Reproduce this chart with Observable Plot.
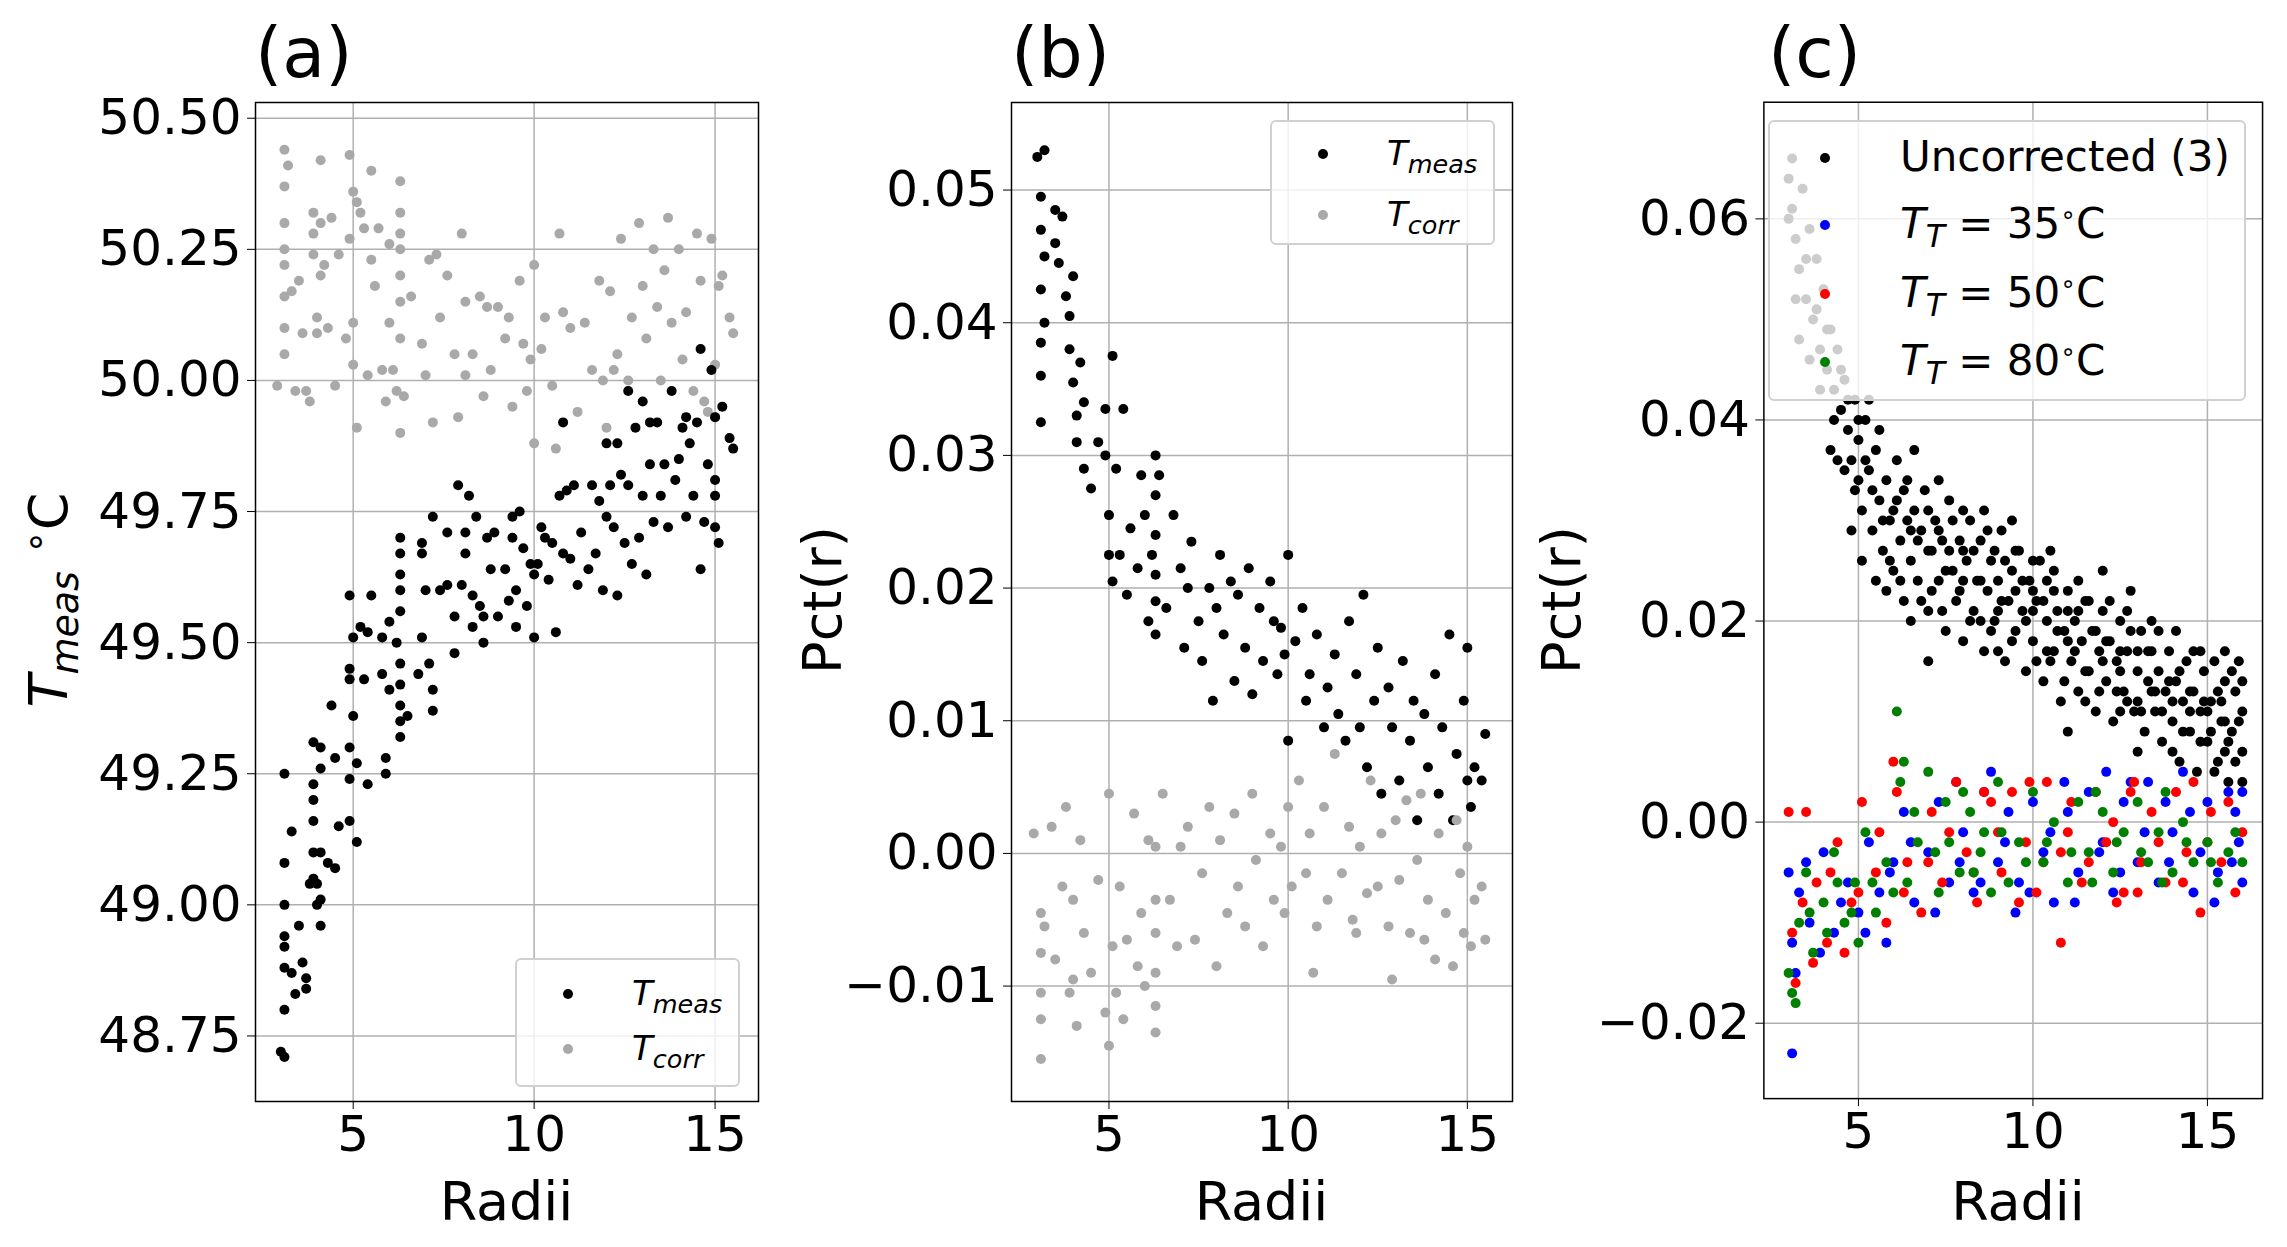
<!DOCTYPE html>
<html><head><meta charset="utf-8">
<script src="https://cdn.jsdelivr.net/npm/d3@7"></script>
<script src="https://cdn.jsdelivr.net/npm/@observablehq/plot@0.6"></script>
<style>
body{margin:0;background:#fff;font-family:"DejaVu Sans",sans-serif;}
#wrap{position:relative;width:2287px;height:1247px;overflow:hidden;}
#wrap svg{position:absolute;top:0;}
.lab{position:absolute;font-size:54px;white-space:nowrap;color:#000;}
.ylab{position:absolute;font-size:54px;white-space:nowrap;transform:translate(-50%,-50%) rotate(-90deg);}
.leg{position:absolute;background:rgba(255,255,255,0.8);border:2px solid #d0d0d0;border-radius:6px;box-sizing:border-box;}
.row{position:absolute;left:0;font-size:36px;white-space:nowrap;}
.dot{position:absolute;width:10px;height:10px;border-radius:50%;}
</style></head><body><div id="wrap"></div>
<script>
// Panel (a): Radii vs T (°C)
const aMeas=[[3,48.72],[3.1,48.71],[3.1,48.8],[3.1,48.88],[3.1,48.92],[3.1,48.94],[3.1,49.0],[3.1,49.08],[3.1,49.25],[3.3,49.14],[3.3,48.87],[3.4,48.83],[3.5,48.96],[3.6,48.89],[3.7,48.86],[3.7,48.84],[3.8,49.04],[3.9,49.05],[3.9,49.1],[3.9,49.16],[3.9,49.2],[3.9,49.23],[3.9,49.31],[4.0,49.0],[4.0,49.04],[4.1,48.96],[4.1,49.01],[4.1,49.1],[4.1,49.26],[4.1,49.3],[4.3,49.08],[4.4,49.38],[4.5,49.28],[4.5,49.07],[4.6,49.15],[4.9,49.16],[4.9,49.24],[4.9,49.3],[4.9,49.43],[4.9,49.45],[4.9,49.59],[5.0,49.36],[5.0,49.51],[5.1,49.12],[5.1,49.27],[5.2,49.53],[5.3,49.43],[5.4,49.23],[5.4,49.52],[5.5,49.59],[5.8,49.51],[5.8,49.44],[5.9,49.28],[5.9,49.25],[6.0,49.41],[6.0,49.54],[6.2,49.5],[6.3,49.32],[6.3,49.35],[6.3,49.38],[6.3,49.42],[6.3,49.46],[6.3,49.56],[6.3,49.6],[6.3,49.63],[6.3,49.67],[6.3,49.7],[6.5,49.36],[6.8,49.44],[6.9,49.51],[6.9,49.67],[6.9,49.69],[7.0,49.6],[7.1,49.46],[7.2,49.41],[7.2,49.37],[7.2,49.74],[7.4,49.6],[7.6,49.71],[7.6,49.61],[7.8,49.55],[7.8,49.48],[7.9,49.8],[8.0,49.61],[8.1,49.71],[8.1,49.67],[8.2,49.78],[8.3,49.59],[8.3,49.53],[8.4,49.74],[8.5,49.57],[8.6,49.55],[8.6,49.5],[8.7,49.7],[8.8,49.64],[8.9,49.71],[9.0,49.55],[9.2,49.64],[9.3,49.58],[9.4,49.7],[9.4,49.74],[9.5,49.53],[9.5,49.6],[9.6,49.75],[9.7,49.68],[9.8,49.57],[9.9,49.65],[10.0,49.63],[10.0,49.51],[10.1,49.65],[10.2,49.72],[10.3,49.7],[10.4,49.62],[10.5,49.69],[10.6,49.52],[10.7,49.78],[10.8,49.92],[10.8,49.67],[10.9,49.79],[11.0,49.66],[11.1,49.8],[11.2,49.61],[11.3,49.71],[11.5,49.64],[11.6,49.8],[11.7,49.67],[11.8,49.77],[11.9,49.6],[12.0,49.88],[12.0,49.74],[12.1,49.8],[12.2,49.72],[12.3,49.59],[12.3,49.88],[12.4,49.82],[12.5,49.69],[12.6,49.8],[12.7,49.65],[12.8,49.91],[12.9,49.7],[13.0,49.78],[13.0,49.96],[13.1,49.63],[13.2,49.84],[13.3,49.73],[13.4,49.92],[13.5,49.78],[13.6,49.84],[13.7,49.72],[13.8,49.98],[13.9,49.81],[14.0,49.85],[14.1,49.91],[14.2,49.74],[14.3,49.88],[14.4,49.78],[14.5,49.92],[14.6,50.06],[14.6,49.64],[14.7,49.73],[14.8,49.84],[14.9,50.02],[15.0,49.72],[15.0,49.81],[15.0,49.78],[15.0,49.93],[15.1,49.69],[15.2,49.95],[15.4,49.89],[15.5,49.87],[13.2,49.92],[12.6,49.98],[14.2,49.93]];
const aCorr=[[2.9,49.99],[3.1,50.44],[3.1,50.37],[3.1,50.3],[3.1,50.25],[3.1,50.22],[3.1,50.16],[3.1,50.1],[3.1,50.05],[3.2,50.41],[3.3,50.17],[3.4,49.98],[3.5,50.19],[3.6,50.09],[3.7,49.98],[3.8,49.96],[3.9,50.32],[3.9,50.28],[3.9,50.24],[4.0,50.12],[4.0,50.09],[4.1,50.42],[4.1,50.2],[4.1,50.3],[4.2,50.22],[4.3,50.1],[4.4,50.31],[4.5,49.99],[4.6,50.24],[4.8,50.08],[4.9,50.43],[4.9,50.27],[5.0,50.36],[5.0,50.11],[5.0,50.03],[5.1,50.34],[5.1,49.91],[5.2,50.32],[5.3,50.29],[5.4,50.01],[5.5,50.4],[5.5,50.23],[5.6,50.18],[5.7,50.29],[5.8,50.02],[5.9,49.96],[6.0,50.26],[6.0,50.11],[6.1,50.02],[6.2,49.98],[6.3,50.38],[6.3,50.32],[6.3,50.28],[6.3,50.25],[6.3,50.2],[6.3,50.15],[6.3,50.08],[6.3,49.9],[6.4,49.97],[6.6,50.16],[6.9,50.07],[7.0,50.01],[7.1,50.23],[7.2,49.92],[7.3,50.24],[7.4,50.12],[7.6,50.2],[7.8,50.05],[7.9,49.93],[8.0,50.28],[8.1,50.01],[8.1,50.15],[8.3,50.05],[8.5,50.16],[8.6,49.97],[8.7,50.14],[8.8,50.02],[9.0,50.14],[9.2,50.08],[9.3,50.12],[9.4,49.95],[9.6,50.19],[9.7,50.07],[9.8,49.98],[9.9,50.04],[10.0,50.22],[10.0,49.88],[10.2,50.06],[10.3,50.12],[10.5,49.99],[10.6,49.87],[10.7,50.28],[10.8,50.13],[11.0,50.1],[11.2,49.94],[11.4,50.11],[11.6,50.02],[11.8,50.19],[11.9,50.0],[12.0,49.91],[12.1,50.17],[12.3,50.05],[12.4,50.27],[12.6,50.0],[12.7,50.12],[12.9,50.3],[13.0,50.18],[13.1,50.08],[13.3,50.25],[13.4,50.14],[13.5,50.0],[13.6,50.21],[13.7,50.31],[13.8,50.11],[14.0,50.25],[14.1,50.04],[14.2,50.13],[14.4,49.98],[14.5,50.28],[14.6,50.19],[14.7,49.96],[14.9,50.27],[15.0,50.03],[15.0,49.93],[15.1,50.18],[15.2,50.2],[15.4,50.12],[15.5,50.09],[14.8,49.94],[12.2,50.02]];
// Panel (b): Radii vs Pct(r)
const bMeas=[[3.0,0.0525],[3.2,0.053],[3.1,0.0495],[3.1,0.047],[3.2,0.045],[3.1,0.0425],[3.2,0.040],[3.1,0.0385],[3.1,0.036],[3.1,0.0325],[3.5,0.0485],[3.5,0.046],[3.6,0.0445],[3.7,0.048],[3.8,0.042],[3.9,0.0405],[3.9,0.038],[4.0,0.0435],[4.0,0.0355],[4.1,0.033],[4.1,0.031],[4.2,0.037],[4.3,0.034],[4.3,0.029],[4.5,0.0275],[4.7,0.031],[4.9,0.0335],[4.9,0.030],[5.0,0.0255],[5.0,0.0225],[5.1,0.0205],[5.1,0.0375],[5.2,0.029],[5.3,0.0225],[5.4,0.0335],[5.5,0.0195],[5.6,0.0245],[5.8,0.0215],[5.9,0.0285],[6.0,0.0255],[6.1,0.0175],[6.2,0.0225],[6.3,0.030],[6.3,0.027],[6.3,0.024],[6.3,0.021],[6.3,0.019],[6.3,0.0165],[6.4,0.0285],[6.6,0.0185],[6.8,0.0255],[7.0,0.0215],[7.1,0.0155],[7.2,0.020],[7.3,0.0235],[7.5,0.0175],[7.6,0.0145],[7.8,0.020],[7.9,0.0115],[8.0,0.0185],[8.1,0.0225],[8.2,0.0165],[8.4,0.0205],[8.5,0.013],[8.6,0.0195],[8.8,0.0155],[8.9,0.0215],[9.0,0.012],[9.2,0.0185],[9.3,0.0145],[9.5,0.0205],[9.6,0.0175],[9.7,0.0135],[9.8,0.017],[9.9,0.015],[10.0,0.0225],[10.0,0.0085],[10.2,0.016],[10.4,0.0185],[10.5,0.0115],[10.6,0.0135],[10.8,0.0165],[11.0,0.0095],[11.1,0.0125],[11.3,0.015],[11.4,0.0105],[11.6,0.0085],[11.7,0.0175],[11.9,0.0135],[12.0,0.0095],[12.1,0.0195],[12.2,0.0065],[12.4,0.0115],[12.5,0.0155],[12.6,0.0045],[12.8,0.0125],[12.9,0.0095],[13.1,0.0055],[13.2,0.0145],[13.4,0.0085],[13.5,0.0115],[13.6,0.0025],[13.8,0.0105],[13.9,0.0065],[14.1,0.0135],[14.2,0.0045],[14.3,0.0095],[14.5,0.0165],[14.6,0.0025],[14.7,0.0075],[14.9,0.0115],[15.0,0.0155],[15.0,0.0055],[15.1,0.0035],[15.2,0.0065],[15.4,0.0055],[15.5,0.009]];
const bCorr=[[2.9,0.0015],[3.1,-0.0045],[3.1,-0.0075],[3.1,-0.0105],[3.1,-0.0125],[3.1,-0.0155],[3.2,-0.0055],[3.4,0.002],[3.5,-0.008],[3.7,-0.0025],[3.8,0.0035],[3.9,-0.0105],[4.0,-0.0035],[4.0,-0.0095],[4.1,-0.013],[4.2,0.001],[4.3,-0.006],[4.5,-0.009],[4.7,-0.002],[4.9,-0.012],[5.0,-0.0145],[5.0,0.0045],[5.1,-0.007],[5.2,-0.0105],[5.3,-0.0025],[5.4,-0.0125],[5.5,-0.0065],[5.7,0.003],[5.8,-0.0085],[5.9,-0.0045],[6.0,-0.01],[6.1,0.001],[6.3,-0.0115],[6.3,-0.009],[6.3,-0.006],[6.3,-0.0035],[6.3,0.0005],[6.3,-0.0135],[6.5,0.0045],[6.7,-0.0035],[6.9,-0.007],[7.0,0.0005],[7.2,0.002],[7.4,-0.0065],[7.6,-0.0015],[7.8,0.0035],[8.0,-0.0085],[8.1,0.001],[8.3,-0.0045],[8.5,0.003],[8.6,-0.0025],[8.8,-0.0055],[9.0,0.0045],[9.1,-0.0005],[9.3,-0.007],[9.5,0.0015],[9.6,-0.0035],[9.8,0.0005],[9.9,-0.0045],[10.0,0.0035],[10.1,-0.0025],[10.3,0.0055],[10.5,-0.0015],[10.6,0.0015],[10.8,-0.0055],[11.0,0.0035],[11.1,-0.0035],[11.3,0.0075],[11.5,-0.0015],[11.7,0.002],[11.8,-0.005],[12.0,0.0005],[12.2,-0.003],[12.3,0.0055],[12.5,-0.0025],[12.6,0.0015],[12.8,-0.0055],[13.0,0.0025],[13.1,-0.002],[13.3,0.004],[13.4,-0.006],[13.6,-0.0005],[13.7,0.0045],[13.9,-0.0035],[14.1,-0.008],[14.2,0.0015],[14.4,-0.0045],[14.6,-0.0085],[14.7,0.0025],[14.8,-0.0015],[14.9,-0.006],[15.0,0.0005],[15.1,-0.007],[15.2,-0.0035],[15.4,-0.0025],[15.5,-0.0065],[12.9,-0.0095],[11.9,-0.006],[13.8,-0.0065],[10.7,-0.009]];
// Panel (c): Radii vs Pct(r)
const cUncorr=[[3.0,0.064],[3.1,0.066],[3.1,0.061],[3.2,0.058],[3.3,0.055],[3.4,0.063],[3.5,0.052],[3.6,0.059],[3.7,0.050],[3.8,0.056],[3.9,0.047],[4.0,0.053],[4.1,0.045],[4.2,0.049],[4.3,0.043],[4.4,0.047],[4.5,0.041],[4.6,0.044],[4.7,0.039],[4.8,0.036],[4.9,0.042],[5.0,0.034],[5.0,0.038],[5.1,0.031],[5.1,0.026],[5.2,0.040],[5.3,0.035],[5.4,0.029],[5.5,0.037],[5.6,0.032],[5.7,0.027],[5.8,0.034],[5.9,0.030],[6.0,0.025],[6.1,0.036],[6.2,0.028],[6.3,0.033],[6.3,0.022],[6.4,0.030],[6.5,0.026],[6.6,0.031],[6.7,0.024],[6.8,0.029],[6.9,0.033],[7.0,0.021],[7.1,0.027],[7.2,0.030],[7.3,0.024],[7.4,0.028],[7.5,0.019],[7.6,0.032],[7.7,0.025],[7.8,0.022],[7.9,0.028],[8.0,0.018],[8.1,0.026],[8.2,0.030],[8.3,0.021],[8.4,0.024],[8.5,0.028],[8.6,0.017],[8.7,0.023],[8.8,0.026],[8.9,0.020],[9.0,0.024],[9.1,0.029],[9.2,0.016],[9.3,0.022],[9.4,0.025],[9.5,0.019],[9.6,0.027],[9.7,0.021],[9.8,0.015],[9.9,0.024],[10.0,0.018],[10.1,0.022],[10.2,0.026],[10.3,0.014],[10.4,0.020],[10.5,0.027],[10.6,0.017],[10.7,0.021],[10.8,0.012],[10.9,0.019],[11.0,0.023],[11.1,0.016],[11.2,0.020],[11.3,0.013],[11.4,0.018],[11.5,0.022],[11.6,0.015],[11.7,0.019],[11.8,0.011],[11.9,0.017],[12.0,0.021],[12.1,0.014],[12.2,0.018],[12.3,0.010],[12.4,0.016],[12.5,0.020],[12.6,0.013],[12.7,0.017],[12.8,0.023],[12.9,0.011],[13.0,0.015],[13.1,0.019],[13.2,0.009],[13.3,0.014],[13.4,0.017],[13.5,0.011],[13.6,0.015],[13.7,0.008],[13.8,0.013],[13.9,0.017],[14.0,0.010],[14.1,0.014],[14.2,0.006],[14.3,0.012],[14.4,0.016],[14.5,0.009],[14.6,0.013],[14.7,0.005],[14.8,0.011],[14.9,0.015],[15.0,0.008],[15.1,0.012],[15.2,0.016],[15.3,0.006],[15.4,0.010],[15.5,0.014],[15.6,0.004],[15.7,0.009],[15.8,0.013],[15.9,0.016],[16.0,0.007],[16.0,0.011],[4.2,0.037],[4.6,0.035],[5.3,0.042],[5.8,0.023],[6.6,0.037],[7.3,0.034],[8.0,0.031],[8.7,0.029],[9.4,0.030],[10.0,0.026],[10.6,0.023],[11.3,0.024],[12.0,0.025],[12.7,0.021],[13.4,0.020],[14.1,0.019],[14.8,0.017],[15.5,0.017],[6.0,0.031],[7.0,0.027],[8.0,0.024],[9.0,0.021],[10.0,0.021],[11.0,0.018],[12.0,0.016],[13.0,0.012],[14.0,0.012],[15.0,0.011],[5.5,0.024],[6.5,0.020],[7.5,0.025],[8.5,0.020],[9.5,0.023],[10.5,0.016],[11.5,0.012],[12.5,0.015],[13.5,0.013],[14.5,0.011],[15.5,0.007],[4.8,0.029],[7.0,0.016],[9.0,0.017],[11.0,0.009],[13.0,0.007],[10.4,0.024],[12.5,0.011],
[3.0,0.060],[3.2,0.052],[3.3,0.048],[3.5,0.056],[3.6,0.046],[3.8,0.051],[3.9,0.043],[4.1,0.049],[4.3,0.040],[4.4,0.036],[4.5,0.045],[4.7,0.042],[4.9,0.033],[5.0,0.040],[5.2,0.036],[5.4,0.033],[5.6,0.039],[5.7,0.030],[5.9,0.026],[6.1,0.032],[6.2,0.024],[6.4,0.034],[6.5,0.029],[6.7,0.028],[6.8,0.022],[7.0,0.031],[7.1,0.023],[7.3,0.029],[7.4,0.021],[7.6,0.027],[7.7,0.030],[7.9,0.023],[8.0,0.027],[8.2,0.020],[8.3,0.027],[8.5,0.024],[8.6,0.031],[8.8,0.019],[8.9,0.027],[9.1,0.022],[9.2,0.026],[9.4,0.018],[9.5,0.027],[9.7,0.024],[9.8,0.020],[10.0,0.023],[10.1,0.016],[10.3,0.022],[10.4,0.017],[10.6,0.025],[10.7,0.019],[10.9,0.014],[11.0,0.021],[11.2,0.017],[11.3,0.021],[11.5,0.015],[11.6,0.022],[11.8,0.019],[11.9,0.013],[12.1,0.018],[12.2,0.022],[12.4,0.013],[12.5,0.017],[12.7,0.012],[12.8,0.019],[13.0,0.017],[13.1,0.011],[13.3,0.017],[13.4,0.013],[13.6,0.019],[13.7,0.011],[13.9,0.014],[14.0,0.007],[14.2,0.015],[14.3,0.009],[14.5,0.013],[14.6,0.017],[14.8,0.008],[14.9,0.012],[15.1,0.009],[15.2,0.005],[15.4,0.012],[15.5,0.010],[15.7,0.015],[15.8,0.006],[16.0,0.014],[16.0,0.004],[15.9,0.010],[15.6,0.008],[15.3,0.013]];
const c35=[[3.0,-0.005],[3.1,-0.023],[3.1,-0.012],[3.3,-0.007],[3.6,-0.010],[4.0,-0.003],[4.3,-0.011],[4.7,-0.006],[5.0,-0.009],[5.3,-0.002],[5.6,-0.007],[6.0,-0.004],[6.3,0.001],[6.6,-0.008],[7.0,-0.003],[7.3,0.002],[7.6,-0.006],[8.0,-0.001],[8.3,-0.007],[8.6,0.003],[9.0,-0.004],[9.3,0.001],[9.6,-0.006],[10.0,0.002],[10.3,-0.003],[10.6,-0.008],[11.0,0.001],[11.3,-0.005],[11.6,0.003],[12.0,-0.002],[12.3,-0.007],[12.6,0.002],[13.0,-0.004],[13.3,0.004],[13.6,-0.006],[14.0,-0.001],[14.3,0.005],[14.6,-0.007],[15.0,0.002],[15.3,-0.005],[15.6,0.003],[15.9,-0.002],[16.0,-0.006],[8.8,0.005],[9.5,-0.009],[12.8,0.004],[14.8,-0.003],[15.8,0.001],[5.8,-0.012],[7.8,0.004],
[3.2,-0.015],[3.5,-0.004],[3.9,-0.013],[4.5,-0.008],[5.2,-0.011],[5.9,-0.005],[6.5,-0.002],[7.2,-0.009],[7.9,-0.004],[8.5,-0.006],[9.2,-0.002],[9.9,-0.007],[10.5,-0.001],[11.2,-0.008],[11.9,-0.003],[12.5,-0.005],[13.2,-0.001],[13.9,-0.004],[14.5,0.001],[15.2,-0.008],[15.7,-0.004],[16.0,0.003],[10.9,0.004],[12.1,0.005],[13.8,0.002]];
const c50=[[3.0,0.001],[3.1,-0.011],[3.2,-0.016],[3.5,0.001],[3.8,-0.006],[4.1,-0.012],[4.4,-0.002],[4.8,-0.008],[5.1,0.002],[5.5,-0.005],[5.8,-0.010],[6.1,0.003],[6.4,-0.004],[6.8,-0.009],[7.1,0.001],[7.4,-0.006],[7.8,0.004],[8.1,-0.003],[8.4,-0.008],[8.8,0.002],[9.1,-0.005],[9.4,0.003],[9.8,-0.002],[10.1,-0.007],[10.4,0.004],[10.8,-0.003],[11.1,0.002],[11.4,-0.006],[11.8,0.003],[12.1,-0.002],[12.4,-0.008],[12.8,0.003],[13.1,-0.004],[13.4,0.001],[13.8,-0.006],[14.1,0.003],[14.4,-0.003],[14.8,-0.009],[15.1,0.001],[15.4,-0.004],[15.8,-0.007],[16.0,-0.001],[6.0,0.006],[9.9,0.004],[12.6,-0.007],[14.6,0.004],[10.8,-0.012],[4.6,-0.013],
[3.4,-0.008],[3.7,-0.014],[4.2,-0.005],[5.0,-0.007],[5.6,-0.001],[6.3,-0.007],[7.0,-0.004],[7.6,-0.001],[8.3,-0.005],[9.0,-0.001],[9.6,-0.008],[10.3,-0.004],[11.0,-0.001],[11.6,-0.004],[12.3,0.000],[13.0,-0.007],[13.6,-0.002],[14.3,-0.006],[15.0,-0.002],[15.6,0.002],[12.9,0.004],[8.6,0.003]];
const c80=[[3.0,-0.015],[3.2,-0.018],[3.3,-0.010],[3.5,-0.005],[3.7,-0.013],[4.0,-0.008],[4.3,-0.003],[4.6,-0.010],[4.9,-0.006],[5.2,-0.001],[5.5,-0.009],[5.8,-0.004],[6.1,0.011],[6.2,0.004],[6.4,-0.006],[6.7,-0.002],[7.0,0.005],[7.3,-0.007],[7.6,-0.002],[8.0,0.003],[8.3,-0.005],[8.6,-0.001],[9.0,0.004],[9.3,-0.006],[9.6,-0.002],[10.0,0.003],[10.3,-0.004],[10.6,0.000],[11.0,-0.006],[11.3,0.002],[11.6,-0.003],[12.0,0.001],[12.3,-0.005],[12.6,-0.001],[13.0,0.002],[13.3,-0.004],[13.6,-0.001],[14.0,-0.005],[14.3,0.000],[14.6,-0.004],[15.0,-0.002],[15.3,-0.006],[15.6,-0.003],[16.0,-0.004],[5.0,-0.012],[7.5,0.002],[8.8,-0.007],[11.8,0.003],[13.8,0.003],
[3.1,-0.017],[3.6,-0.009],[4.1,-0.011],[4.4,-0.006],[4.8,-0.009],[5.4,-0.006],[6.0,-0.007],[6.6,0.001],[7.2,-0.003],[7.9,-0.005],[8.5,-0.003],[9.1,-0.001],[9.8,-0.004],[10.4,-0.002],[11.1,-0.003],[11.7,-0.006],[12.4,-0.002],[13.1,-0.003],[13.7,-0.006],[14.4,-0.002],[15.1,-0.004],[15.8,-0.001],[6.3,0.006],[8.2,0.001]];

const aTicksY=[48.75,49.0,49.25,49.5,49.75,50.0,50.25,50.5];
const bTicksY=[-0.01,0,0.01,0.02,0.03,0.04,0.05];
const cTicksY=[-0.02,0,0.02,0.04,0.06];
const xTicks=[5,10,15];

const W=2287,H=1247,TOP=102,BOT=1101,FS=50;
function panel(left,right,xd,yd,yt,yfmt,series){
  return Plot.plot({
    width:right+25,height:H,marginLeft:left,marginRight:25,marginTop:TOP,marginBottom:H-BOT,
    style:{fontSize:FS+"px",fontFamily:"DejaVu Sans",background:"transparent",overflow:"visible"},
    x:{domain:xd,ticks:xTicks,tickFormat:d=>String(d),label:null},
    y:{domain:yd,ticks:yt,tickFormat:yfmt,label:null},
    marks:[
      Plot.gridX(xTicks,{stroke:"#b0b0b0",strokeOpacity:1,strokeWidth:1.5}),
      Plot.gridY(yt,{stroke:"#b0b0b0",strokeOpacity:1,strokeWidth:1.5}),
      ...series.map(s=>Plot.dot(s.data,{x:d=>d[0],y:d=>d[1],r:5,fill:s.color,stroke:null})),
      Plot.axisX(xTicks,{tickSize:8,tickPadding:6,tickFormat:d=>String(d),fontSize:FS,label:null}),
      Plot.axisY(yt,{tickSize:8,tickPadding:6,tickFormat:yfmt,fontSize:FS,label:null}),
      Plot.frame({stroke:"#000",strokeWidth:1.5})
    ]
  });
}
const wrap=document.getElementById("wrap");
const fmt2=d3.format(".2f");
const fmtB=d=>(d<0?"\u2212":"")+Math.abs(d).toFixed(2);
const pa=panel(255,758,[2.3,16.2],[48.625,50.53],aTicksY,fmt2,[{data:aCorr,color:"#a9a9a9"},{data:aMeas,color:"#000"}]);
pa.style.left="0px";wrap.appendChild(pa);
const pb=panel(1011,1512,[2.28,16.26],[-0.0187,0.0566],bTicksY,fmtB,[{data:bMeas,color:"#000"},{data:bCorr,color:"#a9a9a9"}]);
pb.style.left="0px";wrap.appendChild(pb);
const pc=panel(1768,2268,[2.29,16.58],[-0.0275,0.0716],cTicksY,fmtB,[{data:cUncorr,color:"#000"},{data:c35,color:"#0000ff"},{data:c50,color:"#ff0000"},{data:c80,color:"#008000"}]);
pc.style.left="0px";wrap.appendChild(pc);

function add(html,cls,css){const d=document.createElement("div");d.className=cls;d.innerHTML=html;Object.assign(d.style,css);wrap.appendChild(d);return d;}
add("(a)","lab",{left:"255px",top:"12px",fontSize:"70px"});
add("(b)","lab",{left:"1011px",top:"12px",fontSize:"70px"});
add("(c)","lab",{left:"1768px",top:"12px",fontSize:"70px"});
[[255,758],[1011,1512],[1768,2268]].forEach(([l,r])=>add("Radii","lab",{left:((l+r)/2)+"px",top:"1170px",transform:"translateX(-50%)"}));
add("<i>T</i><sub style='font-size:38px'><i>meas</i></sub> <sup style='font-size:38px'>\u2218</sup>C","ylab",{left:"50px",top:"600px"});
add("Pct(r)","ylab",{left:"822px",top:"600px"});
add("Pct(r)","ylab",{left:"1561px",top:"600px"});
function legend(box,rows,fs,dotX,textX){
  const L=add("","leg",{left:box[0]+"px",top:box[1]+"px",width:box[2]+"px",height:box[3]+"px"});
  rows.forEach(([html,color,y])=>{
    const dd=document.createElement("div");dd.className="dot";Object.assign(dd.style,{left:(dotX-5)+"px",top:(y-5)+"px",background:color});L.appendChild(dd);
    const t=document.createElement("div");t.className="row";t.innerHTML=html;Object.assign(t.style,{left:textX+"px",top:(y-fs*0.62)+"px",fontSize:fs+"px"});L.appendChild(t);
  });
}
const sub=(a,b)=>`<i>${a}</i><sub style="font-size:0.75em"><i>${b}</i></sub>`;
legend([515,958,225,129],[[sub("T","meas"),"#000",34],[sub("T","corr"),"#a9a9a9",89]],34,51,115);
legend([1270,120,225,125],[[sub("T","meas"),"#000",32],[sub("T","corr"),"#a9a9a9",93]],34,51,115);
legend([1768,120,478,281],[["Uncorrected (3)","#000",36],[sub("T","T")+" = 35<sup style='font-size:0.6em'>\u2218</sup>C","#0000ff",103],[sub("T","T")+" = 50<sup style='font-size:0.6em'>\u2218</sup>C","#ff0000",172],[sub("T","T")+" = 80<sup style='font-size:0.6em'>\u2218</sup>C","#008000",240]],42,55,130);
</script></body></html>
